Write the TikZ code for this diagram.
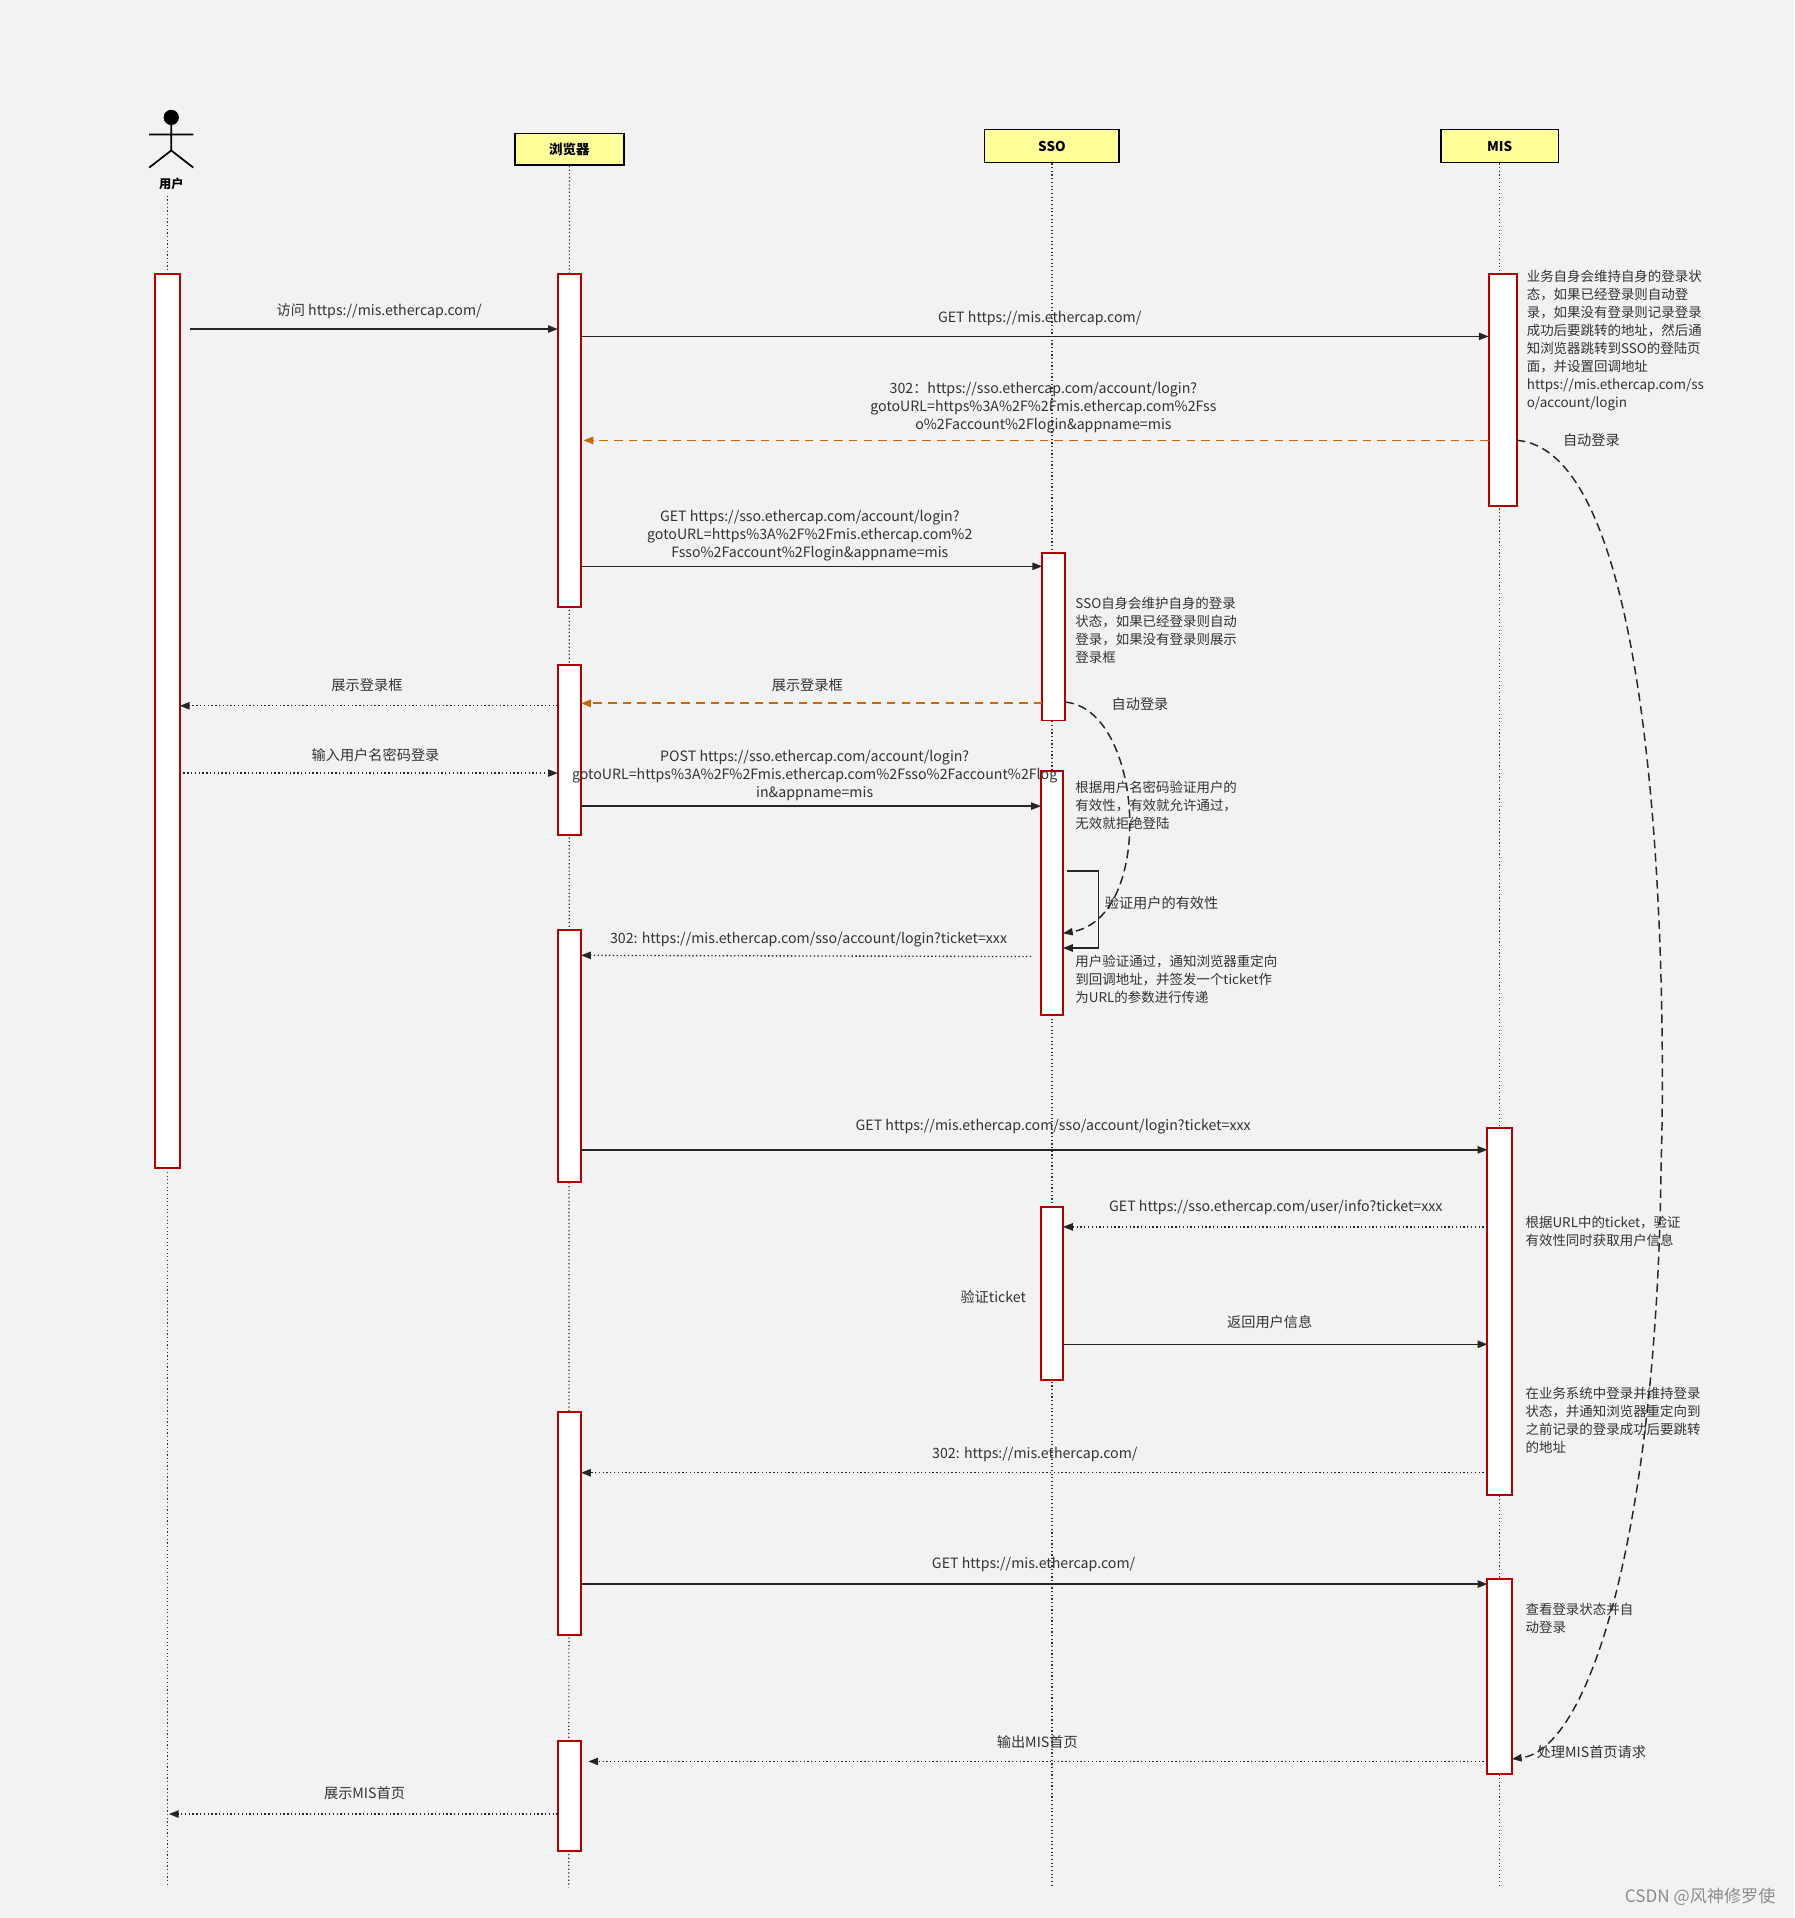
\documentclass[tikz,border=0pt]{standalone}
\usepackage{fontspec}
\setmainfont{Noto Sans CJK SC}
\usetikzlibrary{arrows.meta}
\definecolor{bg}{HTML}{F2F2F2}
\definecolor{act}{HTML}{B20000}
\definecolor{hdr}{HTML}{FFFF99}
\definecolor{org}{HTML}{CC6600}
\definecolor{txt}{HTML}{333333}
\newcommand{\actbox}[5]{\node[actv,anchor=north west,minimum width=#4-#2,minimum height=#5-#3] (#1) at (#2,#3) {};}
\begin{document}
\begin{tikzpicture}[x=1pt,y=-1pt,
  actv/.style={draw=act,fill=white,line width=1.6pt,inner sep=0pt,outer sep=0pt},
  hd/.style={draw=black,fill=hdr,line width=1.3pt,font=\fontsize{11}{13}\selectfont\bfseries,inner sep=0pt},
  life/.style={draw=black!80,dotted,line width=1pt},
  lbl/.style={font=\fontsize{11.6}{14.7}\selectfont,text=txt,align=center,inner sep=1pt},
  note/.style={font=\fontsize{11}{14.7}\selectfont,text=txt,align=left,anchor=north west,inner sep=0pt},
  sol/.style={draw=black!85,line width=1.1pt,-{Triangle[length=8pt,width=6pt]}},
  dot/.style={draw=black!85,line width=1.1pt,dotted,-{Triangle[length=8pt,width=6pt]}},
  ora/.style={draw=org,line width=1.4pt,dash pattern=on 7pt off 5pt,-{Triangle[length=8pt,width=6pt]}},
  curv/.style={draw=black!85,line width=1.2pt,dash pattern=on 7pt off 4pt,-{Triangle[length=8pt,width=6pt]}}]
\fill[bg] (0,0) rectangle (1467,1568);
\useasboundingbox (0,0) rectangle (1467,1568);
% actor
\draw[fill=black] (140,96) circle (6);
\draw[line width=1.4pt] (140,102) -- (140,123) (122,110) -- (158,110) (122,137) -- (140,123) -- (158,137);
\node[font=\fontsize{10}{12}\selectfont\bfseries] (user) at (140,150) {用户};
% headers
\node[hd,minimum width=89,minimum height=26] (br) at (465.5,122) {浏览器};
\node[hd,minimum width=110,minimum height=27] (sso) at (860,119.5) {SSO};
\node[hd,minimum width=96,minimum height=27] (mis) at (1226,119.5) {MIS};
% lifelines
\draw[life] (137,160) -- (137,1543);
\draw[life] (br.south) -- (465,1543);
\draw[life] (sso.south) -- (860,1543);
\draw[life] (mis.south) -- (1226,1543);
% activations
\actbox{u1}{127}{224}{147}{955}
\actbox{b1}{456}{224}{475}{496}
\actbox{b2}{456}{544}{475}{683}
\actbox{b3}{456}{760}{475}{966}
\actbox{b4}{456}{1154}{475}{1337}
\actbox{b5}{456}{1423}{475}{1513}
\actbox{s1}{852}{452}{871}{589}
\actbox{s2}{851}{630}{869}{830}
\actbox{s3}{851}{987}{869}{1128}
\actbox{m1}{1217}{224}{1240}{414}
\actbox{m2}{1216}{922}{1236}{1222}
\actbox{m3}{1216}{1291}{1236}{1450}
% messages
\draw[sol] (155,269) -- (b1.west |- 0,269);
\node[lbl] at (310,254) {访问 https://mis.ethercap.com/};
\draw[sol] (b1.east |- 0,275) -- (m1.west |- 0,275);
\node[lbl] at (850,260) {GET https://mis.ethercap.com/};
\draw[ora] (m1.west |- 0,360) -- (477,360);
\node[lbl] at (853,333) {302：https://sso.ethercap.com/account/login?\\gotoURL=https\%3A\%2F\%2Fmis.ethercap.com\%2Fss\\o\%2Faccount\%2Flogin\&appname=mis};
\draw[sol] (b1.east |- 0,463) -- (s1.west |- 0,463);
\node[lbl] at (662,438) {GET https://sso.ethercap.com/account/login?\\gotoURL=https\%3A\%2F\%2Fmis.ethercap.com\%2\\Fsso\%2Faccount\%2Flogin\&appname=mis};
\draw[ora] (s1.west |- 0,575) -- (b2.east |- 0,575);
\node[lbl] at (660,560) {展示登录框};
\draw[dot] (b2.west |- 0,577) -- (u1.east |- 0,577);
\node[lbl] at (300,560) {展示登录框};
\draw[dot] (150,632) -- (b2.west |- 0,632);
\node[lbl] at (307,617) {输入用户名密码登录};
\draw[sol] (b2.east |- 0,659) -- (s2.west |- 0,659);
\node[lbl] at (666,634) {POST https://sso.ethercap.com/account/login?\\gotoURL=https\%3A\%2F\%2Fmis.ethercap.com\%2Fsso\%2Faccount\%2Flog\\in\&appname=mis};
\draw[sol] (872,712) -- (898,712) -- (898,775) -- (s2.east |- 0,775);
\node[lbl,anchor=west] at (902,738) {验证用户的有效性};
\draw[dot] (843,782) -- (b3.east |- 0,781);
\node[lbl] at (661,768) {302: https://mis.ethercap.com/sso/account/login?ticket=xxx};
\draw[sol] (b3.east |- 0,940) -- (m2.west |- 0,940);
\node[lbl] at (861,921) {GET https://mis.ethercap.com/sso/account/login?ticket=xxx};
\draw[dot] (m2.west |- 0,1003) -- (s3.east |- 0,1003);
\node[lbl] at (1043,987) {GET https://sso.ethercap.com/user/info?ticket=xxx};
\node[lbl] at (812,1060) {验证ticket};
\draw[sol] (s3.east |- 0,1099) -- (m2.west |- 0,1099);
\node[lbl] at (1038,1081) {返回用户信息};
\draw[dot] (m2.west |- 0,1204) -- (b4.east |- 0,1204);
\node[lbl] at (846,1189) {302: https://mis.ethercap.com/};
\draw[sol] (b4.east |- 0,1295) -- (m3.west |- 0,1295);
\node[lbl] at (845,1279) {GET https://mis.ethercap.com/};
\draw[dot] (m3.west |- 0,1440) -- (481,1440);
\node[lbl] at (848,1424) {输出MIS首页};
\draw[dot] (b5.west |- 0,1483) -- (138,1483);
\node[lbl] at (298,1466) {展示MIS首页};
% curves
\draw[curv] (871,574) .. controls (935,580) and (945,750) .. (s2.east |- 0,763);
\node[lbl] at (932,576) {自动登录};
\draw[curv] (m1.east |- 0,360) .. controls (1370,370) and (1360,900) .. (1358,950) .. controls (1355,1250) and (1300,1430) .. (m3.east |- 0,1438);
\node[lbl] at (1301,360) {自动登录};
\node[lbl] at (1301,1432) {处理MIS首页请求};
% notes
\node[note] at (1248,221) {业务自身会维持自身的登录状\\态，如果已经登录则自动登\\录，如果没有登录则记录登录\\成功后要跳转的地址，然后通\\知浏览器跳转到SSO的登陆页\\面，并设置回调地址\\https://mis.ethercap.com/ss\\o/account/login};
\node[note] at (879,488) {SSO自身会维护自身的登录\\状态，如果已经登录则自动\\登录，如果没有登录则展示\\登录框};
\node[note] at (879,638) {根据用户名密码验证用户的\\有效性，有效就允许通过，\\无效就拒绝登陆};
\node[note] at (879,781) {用户验证通过，通知浏览器重定向\\到回调地址，并签发一个ticket作\\为URL的参数进行传递};
\node[note] at (1247,994) {根据URL中的ticket，验证\\有效性同时获取用户信息};
\node[note] at (1247,1134) {在业务系统中登录并维持登录\\状态，并通知浏览器重定向到\\之前记录的登录成功后要跳转\\的地址};
\node[note] at (1247,1310) {查看登录状态并自\\动登录};
\node[font=\fontsize{14}{16}\selectfont,text=black!45,anchor=east] (wm) at (1455,1551) {CSDN @风神修罗使};
\end{tikzpicture}
\end{document}
